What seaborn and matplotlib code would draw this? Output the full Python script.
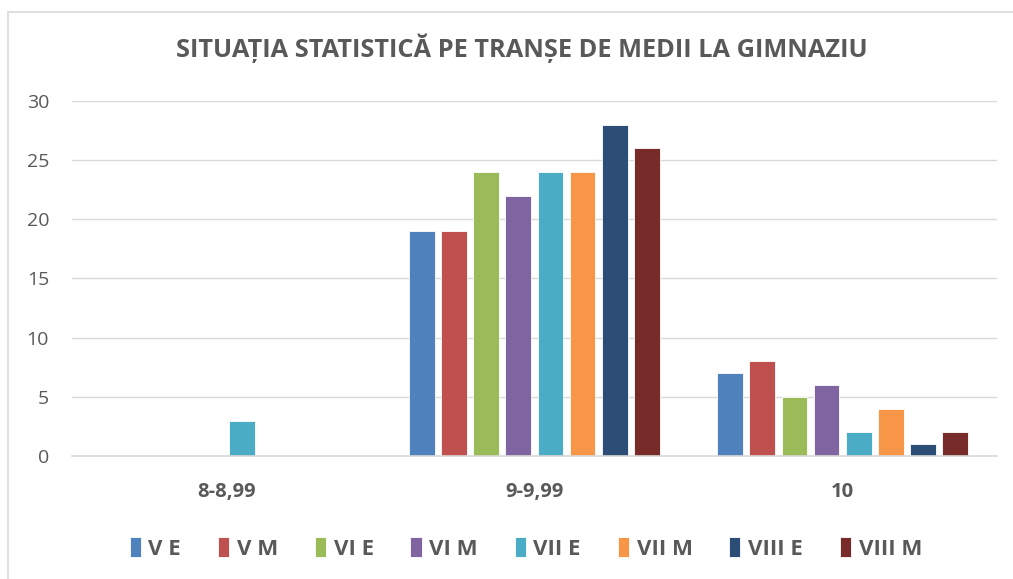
import pandas as pd
import matplotlib.pyplot as plt
import seaborn as sns
from matplotlib.patches import Rectangle

# data
categories = ['8-8,99', '9-9,99', '10']
series = ['V E', 'V M', 'VI E', 'VI M', 'VII E', 'VII M', 'VIII E', 'VIII M']
v_e = [0, 19, 7]
v_m = [0, 19, 8]
vi_e = [0, 24, 5]
vi_m = [0, 22, 6]
vii_e = [3, 24, 2]
vii_m = [0, 24, 4]
viii_e = [0, 28, 1]
viii_m = [0, 26, 2]

colors = ['#4F81BD', '#C0504D', '#9BBB59', '#8064A2',
          '#4BACC6', '#F79646', '#2C4D75', '#772C2A']

values = [v_e, v_m, vi_e, vi_m, vii_e, vii_m, viii_e, viii_m]
rows = []
for name, vals in zip(series, values):
    for cat, v in zip(categories, vals):
        rows.append({'categorie': cat, 'clasa': name, 'valoare': v})
df = pd.DataFrame(rows)

sns.set_theme(style='white')
plt.rcParams['font.family'] = ['Open Sans', 'DejaVu Sans']
text_color = '#595959'

fig = plt.figure(figsize=(10.13, 5.79), dpi=100)
ax = fig.add_axes([0.071, 0.2124, 0.913, 0.6132])

sns.barplot(data=df, x='categorie', y='valoare', hue='clasa',
            order=categories, hue_order=series, palette=colors, saturation=1,
            width=0.835, gap=0.2, edgecolor='#FFFFFF', linewidth=0.6,
            legend=True, ax=ax)

ax.set_ylim(0, 30)
ax.set_yticks(range(0, 31, 5))
ax.yaxis.grid(True, color='#D9D9D9', linewidth=1)
ax.set_axisbelow(True)
for s in ['top', 'right', 'left']:
    ax.spines[s].set_visible(False)
ax.spines['bottom'].set_color('#D9D9D9')
ax.spines['bottom'].set_linewidth(1.2)
ax.set_xlabel('')
ax.set_ylabel('')
ax.tick_params(axis='y', length=0, pad=16.5, labelsize=14, labelcolor=text_color)
ax.tick_params(axis='x', length=0, pad=19, labelsize=14.5, labelcolor=text_color)
for lbl in ax.get_xticklabels():
    lbl.set_fontweight('bold')

fig.text(0.515, 0.917, 'SITUAȚIA STATISTICĂ PE TRANȘE DE MEDII LA GIMNAZIU',
         ha='center', va='center', fontsize=18.3, fontweight='bold', color=text_color)

handles, labels = ax.get_legend_handles_labels()
ax.legend_.remove()
leg = fig.legend(handles, labels, loc='center', bbox_to_anchor=(0.519, 0.053),
                 ncol=8, frameon=False, handlelength=0.5, handleheight=1.0,
                 handletextpad=0.35, columnspacing=1.65,
                 prop={'size': 16, 'weight': 'bold'})
for t in leg.get_texts():
    t.set_color(text_color)

# chart frame (only the left and top edges show in the reference)
fig.patches.append(Rectangle((0.0079, -0.05), 1.1, 1.0289, transform=fig.transFigure,
                             fill=False, edgecolor='#D9D9D9', linewidth=1.2))

fig.savefig('out.png', dpi=100)
